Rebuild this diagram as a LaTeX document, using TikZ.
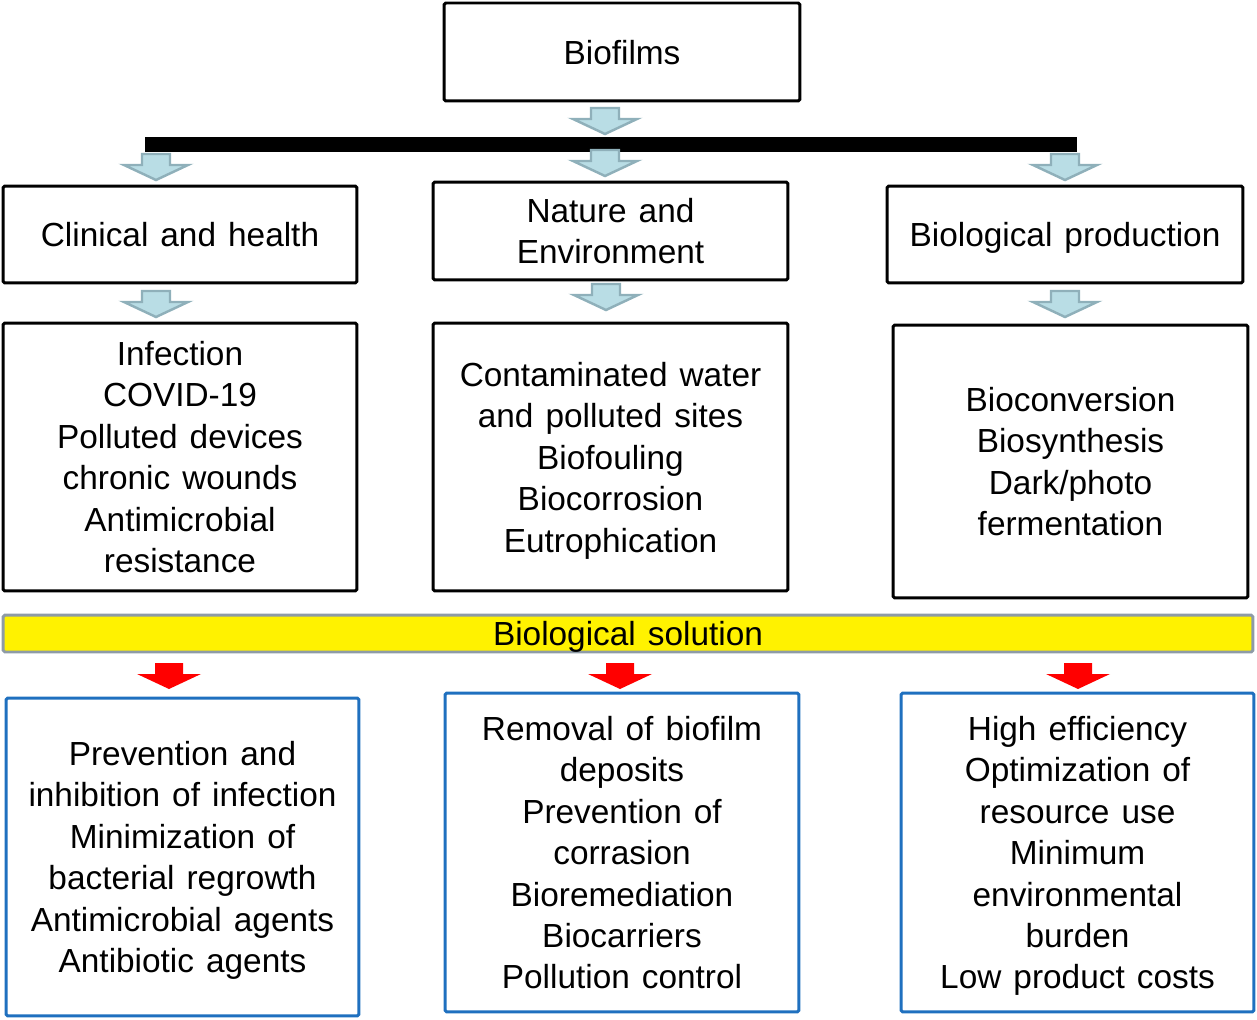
\documentclass[tikz,border=0pt]{standalone}
\usepackage{fontspec}
\setmainfont{Liberation Sans}
\usepackage{tikz}
\usetikzlibrary{calc, positioning}
\definecolor{arrowfill}{RGB}{185,221,229}
\definecolor{arrowline}{RGB}{143,176,186}
\definecolor{boxblue}{RGB}{31,112,191}
\definecolor{bargray}{RGB}{142,155,166}
\newcommand{\boxfont}{\fontsize{19}{23.6}\selectfont\setlength{\spaceskip}{0.36em}}
\tikzset{
	txt/.style = {align=center, font=\boxfont, text depth=-1pt},
	blackbox/.style = {txt, draw=black, line width=1.7pt, rounded corners=1pt, inner sep=0pt},
	bluebox/.style = {txt, draw=boxblue, line width=1.7pt, rounded corners=1pt, inner sep=0pt},
	pics/dnarrow/.style = {code={\path[pic actions] (-14,1) -- (14,1) -- (14,12) -- (32,12) -- (0,27) -- (-32,12) -- (-14,12) -- cycle;}},
	bluearrow/.style = {fill=arrowfill, draw=arrowline, line width=1.4pt},
	redarrow/.style = {fill=red}
}

\begin{document}
\begin{tikzpicture}[x=0.02cm, y=-0.02cm]
	\useasboundingbox (0,0) rectangle (1257,1020);
	
	% top
	\node[blackbox, minimum width=7.12cm, minimum height=1.96cm] (bio) at (622,52) {Biofilms};
	\pic[bluearrow] at (605,107) {dnarrow};
	\node[fill=black, inner sep=0pt, minimum width=18.64cm, minimum height=0.29cm] (bar) at (611,144.5) {};
	
	% second row
	\node[blackbox, text depth=-3pt, minimum width=7.08cm, minimum height=1.94cm] (clin) at (180,234.5) {Clinical and health};
	\node[blackbox, minimum width=7.10cm, minimum height=1.96cm] (nat) at (610.5,231) {Nature and\\Environment};
	\node[blackbox, minimum width=7.12cm, minimum height=1.94cm] (prod) at (1065,234.5) {Biological production};
	\pic[bluearrow] at (156,153) {dnarrow};
	\pic[bluearrow] at (605,149) {dnarrow};
	\pic[bluearrow] at (1065,153) {dnarrow};
	
	% third row
	\pic[bluearrow] at (156,290) {dnarrow};
	\pic[bluearrow] at (606,283) {dnarrow};
	\pic[bluearrow] at (1065,290) {dnarrow};
	\node[blackbox, minimum width=7.08cm, minimum height=5.36cm] (clinx) at (180,457) {Infection\\COVID-19\\Polluted devices\\chronic wounds\\Antimicrobial\\resistance};
	\node[blackbox, minimum width=7.10cm, minimum height=5.36cm] (natx) at (610.5,457) {Contaminated water\\and polluted sites\\Biofouling\\Biocorrosion\\Eutrophication};
	\node[blackbox, text depth=-3pt, minimum width=7.10cm, minimum height=5.46cm] (prodx) at (1070.5,461.5) {Bioconversion\\Biosynthesis\\Dark/photo\\fermentation};
	
	% solution bar
	\node[txt, fill=yellow, draw=bargray, line width=1.7pt, rounded corners=1pt, inner sep=0pt, minimum width=25.0cm, minimum height=0.74cm] (sol) at (628,633.5) {Biological solution};
	\pic[redarrow] at (169,662) {dnarrow};
	\pic[redarrow] at (620,662) {dnarrow};
	\pic[redarrow] at (1078,662) {dnarrow};
	
	% bottom row
	\node[bluebox, minimum width=7.06cm, minimum height=6.36cm] (clinsol) at (182.5,857) {Prevention and\\inhibition of infection\\Minimization of\\bacterial regrowth\\Antimicrobial agents\\Antibiotic agents};
	\node[bluebox, text depth=-5pt, minimum width=7.08cm, minimum height=6.38cm] (natsol) at (622,852.5) {Removal of biofilm\\deposits\\Prevention of\\corrasion\\Bioremediation\\Biocarriers\\Pollution control};
	\node[bluebox, text depth=-3pt, minimum width=7.06cm, minimum height=6.38cm] (prodsol) at (1077.5,852.5) {High efficiency\\Optimization of\\resource use\\Minimum\\environmental\\burden\\Low product costs};
\end{tikzpicture}
\end{document}
